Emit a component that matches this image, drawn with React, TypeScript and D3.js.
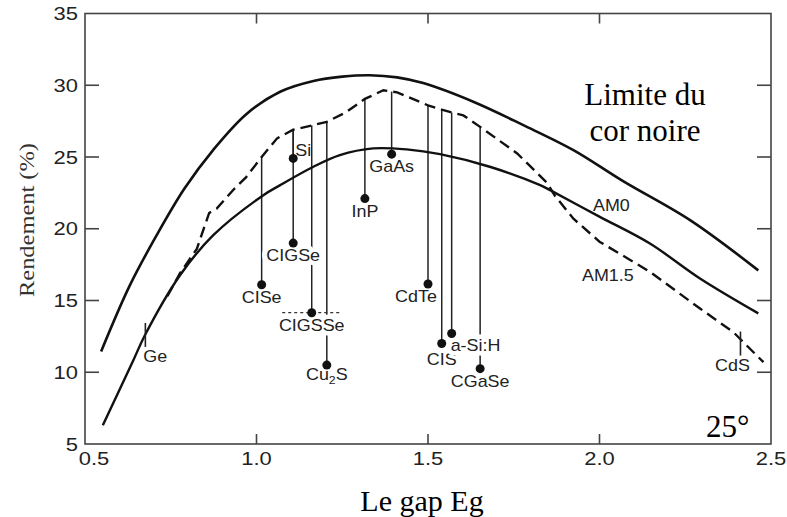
import React from 'react';
import * as d3 from 'd3';

// ---- data ----
const xTicks = [0.5, 1.0, 1.5, 2.0, 2.5];
const yTicks = [5, 10, 15, 20, 25, 30, 35];
const innerXTicks = [1.0, 1.5, 2.0];
const innerYTicks = [10, 15, 20, 25, 30];

// black-body limit (upper solid curve)
const limitCurve: [number, number][] = [
  [0.547, 11.45], [0.631, 16.07], [0.709, 19.55], [0.79, 22.8], [0.874, 25.5],
  [0.971, 28.0], [1.069, 29.55], [1.166, 30.3], [1.25, 30.6], [1.33, 30.7],
  [1.41, 30.55], [1.486, 30.15], [1.632, 28.85], [1.778, 27.22], [1.924, 25.48],
  [2.07, 23.3], [2.264, 20.6], [2.463, 17.1],
];

// AM0 (middle solid curve)
const am0Curve: [number, number][] = [
  [0.552, 6.3], [0.641, 10.84], [0.675, 12.6], [0.777, 16.76], [0.874, 19.55],
  [1.02, 22.34], [1.069, 23.04], [1.166, 24.32], [1.243, 25.13], [1.34, 25.6],
  [1.438, 25.53], [1.535, 25.2], [1.68, 24.32], [1.827, 23.04], [1.856, 22.69],
  [2.001, 20.83], [2.147, 18.97], [2.293, 16.53], [2.463, 14.1],
];

// AM1.5 (dashed curve)
const am15Curve: [number, number][] = [
  [0.74, 15.3], [0.777, 16.9], [0.826, 18.6], [0.862, 21.1], [0.884, 21.4],
  [0.932, 22.7], [0.97, 23.6], [1.015, 25.0], [1.06, 26.3], [1.107, 26.9],
  [1.161, 27.2], [1.205, 27.45], [1.26, 28.1], [1.316, 29.05], [1.37, 29.65],
  [1.41, 29.5], [1.5, 28.6], [1.54, 28.3], [1.569, 28.1], [1.603, 27.9],
  [1.652, 27.1], [1.76, 25.25], [1.847, 23.2], [1.87, 22.3], [1.924, 20.7],
  [2.0, 19.1], [2.147, 17.0], [2.293, 14.44], [2.39, 12.8], [2.478, 10.7],
];

// cell materials: gap (eV), efficiency (%), label placement
const materialNames = ['CISe', 'Si', 'CIGSe', 'CIGSSe', 'Cu2S', 'InP', 'GaAs', 'CdTe', 'CIS', 'a-Si:H', 'CGaSe'];
const materialGap = [1.015, 1.107, 1.107, 1.161, 1.205, 1.316, 1.394, 1.50, 1.54, 1.569, 1.652];
const materialEff = [16.1, 24.9, 19.0, 14.15, 10.5, 22.1, 25.2, 16.15, 12.0, 12.7, 10.25];
const materialPlace = ['below', 'right', 'below', 'below', 'below', 'below', 'below', 'belowLeft', 'below', 'belowRight', 'below'];
const materialHalo = [false, false, true, true, false, false, false, false, false, true, false];

const cigsseRange = [1.075, 1.243];

// curve markers
const markerNames = ['Ge', 'CdS'];
const markerGap = [0.676, 2.411];
const markerEff = [12.6, 12.0];

const curveLabels = ['AM0', 'AM1.5'];
const curveLabelX = [1.981, 1.949];
const curveLabelY = [21.24, 16.36];

const SANS = '"Liberation Sans", Arial, Helvetica, sans-serif';
const SERIF = '"Liberation Serif", "Times New Roman", Times, serif';

function interp(pts: [number, number][], x: number): number {
  for (let i = 0; i < pts.length - 1; i++) {
    const [x0, y0] = pts[i];
    const [x1, y1] = pts[i + 1];
    if (x >= x0 && x <= x1) return y0 + ((x - x0) / (x1 - x0)) * (y1 - y0);
  }
  return pts[pts.length - 1][1];
}

const SX = 1.12;

function SText(props: { x: number; y: number; size: number; anchor?: string; children: any; halo?: boolean; fill?: string; sx?: number }) {
  const { x, y, size, anchor = 'start', children, halo, fill = '#222', sx = SX } = props;
  return (
    <text
      transform={`translate(${x},${y}) scale(${sx},1)`}
      fontFamily={SANS}
      fontSize={size}
      textAnchor={anchor}
      fill={fill}
      stroke={halo ? '#fff' : 'none'}
      strokeWidth={halo ? 9 : 0}
      strokeLinejoin="round"
      paintOrder="stroke"
    >
      {children}
    </text>
  );
}

export default function App() {
  const W = 787;
  const H = 517;
  const x = d3.scaleLinear().domain([0.5, 2.5]).range([85, 771]);
  const y = d3.scaleLinear().domain([5, 35]).range([444, 13.5]);

  const smooth = d3.line<[number, number]>().x(d => x(d[0])).y(d => y(d[1])).curve(d3.curveCatmullRom.alpha(0.5));
  const straight = d3.line<[number, number]>().x(d => x(d[0])).y(d => y(d[1]));

  const [x0, x1] = x.range();
  const [y0, y1] = y.range();

  const labelText = (name: string) =>
    name === 'Cu2S' ? (
      <>
        <tspan>Cu</tspan>
        <tspan fontSize={11} dy={4}>2</tspan>
        <tspan dy={-4}>S</tspan>
      </>
    ) : (
      name
    );

  return (
    <svg width={W} height={H} style={{ position: 'absolute', left: 0, top: 0, background: '#fff' }}>
      <rect x={0} y={0} width={W} height={H} fill="#fff" />

      {/* vertical material lines */}
      {materialNames.map((n, i) => {
        const top = interp(am15Curve, materialGap[i]);
        return (
          <line key={'v' + n} x1={x(materialGap[i])} x2={x(materialGap[i])} y1={y(top)} y2={y(materialEff[i])} stroke="#222" strokeWidth={1.5} />
        );
      })}

      {/* CIGSSe dotted line */}
      <line x1={x(cigsseRange[0])} x2={x(cigsseRange[1])} y1={y(materialEff[3])} y2={y(materialEff[3])} stroke="#333" strokeWidth={1.3} strokeDasharray="3,3" />

      {/* material labels */}
      {materialNames.map((n, i) => {
        const px = x(materialGap[i]);
        const py = y(materialEff[i]);
        const pl = materialPlace[i];
        const halo = materialHalo[i];
        if (pl === 'right') return <SText key={'l' + n} x={px + 2} y={py - 2} size={16} halo={halo}>{labelText(n)}</SText>;
        if (pl === 'belowLeft') return <SText key={'l' + n} x={px - 12} y={py + 18} size={16} anchor="middle" halo={halo}>{labelText(n)}</SText>;
        if (pl === 'belowRight') return <SText key={'l' + n} x={px - 1} y={py + 17} size={16} anchor="start" halo={halo}>{labelText(n)}</SText>;
        const dy = n === 'Cu2S' ? 15 : n === 'CIS' ? 21 : 18;
        return <SText key={'l' + n} x={px} y={py + dy} size={16} anchor="middle" halo={halo}>{labelText(n)}</SText>;
      })}

      {/* curves */}
      <path d={smooth(limitCurve) || ''} fill="none" stroke="#111" strokeWidth={2.6} />
      <path d={smooth(am0Curve) || ''} fill="none" stroke="#111" strokeWidth={2.4} />
      <path d={straight(am15Curve) || ''} fill="none" stroke="#111" strokeWidth={2.4} strokeDasharray="11,6" />

      {/* material dots */}
      {materialNames.map((n, i) => (
        <circle key={'d' + n} cx={x(materialGap[i])} cy={y(materialEff[i])} r={4.5} fill="#111" />
      ))}

      {/* Ge, CdS markers */}
      {markerNames.map((n, i) => (
        <g key={'m' + n}>
          <line x1={x(markerGap[i])} x2={x(markerGap[i])} y1={y(markerEff[i]) - 12} y2={y(markerEff[i]) + 12} stroke="#222" strokeWidth={1.6} />
          <SText x={n === 'Ge' ? x(markerGap[i]) - 2 : x(markerGap[i]) - 8} y={y(markerEff[i]) + 27} size={16} anchor={n === 'Ge' ? 'start' : 'middle'}>{n}</SText>
        </g>
      ))}

      {/* curve labels */}
      {curveLabels.map((n, i) => (
        <SText key={'c' + n} x={x(curveLabelX[i])} y={y(curveLabelY[i])} size={16}>{n}</SText>
      ))}

      {/* frame */}
      <rect x={x0} y={y1} width={x1 - x0} height={y0 - y1} fill="none" stroke="#444" strokeWidth={1.6} />

      {/* inner ticks */}
      {innerXTicks.map(t => (
        <g key={'xt' + t}>
          <line x1={x(t)} x2={x(t)} y1={y0} y2={y0 - 10} stroke="#444" strokeWidth={1.6} />
          <line x1={x(t)} x2={x(t)} y1={y1} y2={y1 + 10} stroke="#444" strokeWidth={1.6} />
        </g>
      ))}
      {innerYTicks.map(t => (
        <g key={'yt' + t}>
          <line x1={x0} x2={x0 + 14} y1={y(t)} y2={y(t)} stroke="#444" strokeWidth={1.6} />
          <line x1={x1} x2={x1 - 14} y1={y(t)} y2={y(t)} stroke="#444" strokeWidth={1.6} />
        </g>
      ))}

      {/* tick labels */}
      {xTicks.map((t, i) => (
        <SText key={'xl' + t} x={x(t) + (i === 0 ? 9 : 0)} y={465} size={18} anchor="middle" sx={1.22}>{d3.format('.1f')(t)}</SText>
      ))}
      {yTicks.map(t => (
        <SText key={'yl' + t} x={78} y={y(t) + 6.5} size={18} anchor="end" sx={1.22}>{String(t)}</SText>
      ))}

      {/* axis titles */}
      <text
        transform={`translate(34,220) rotate(-90)`}
        fontFamily={SERIF}
        fontSize={21}
        textAnchor="middle"
        fill="#333"
        textLength={154}
        lengthAdjust="spacingAndGlyphs"
      >
        Rendement (%)
      </text>
      <text x={422} y={511} fontFamily={SERIF} fontSize={30} textAnchor="middle" fill="#000">Le gap Eg</text>

      {/* annotations */}
      <text x={645} y={105} fontFamily={SERIF} fontSize={31} textAnchor="middle" fill="#000">Limite du</text>
      <text x={645} y={141} fontFamily={SERIF} fontSize={31} textAnchor="middle" fill="#000">cor noire</text>
      <text x={706} y={437} fontFamily={SERIF} fontSize={31} textAnchor="start" fill="#000">25°</text>
    </svg>
  );
}
